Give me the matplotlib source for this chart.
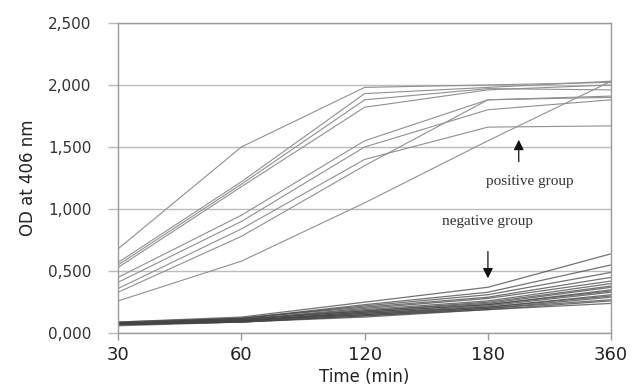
import numpy as np
import matplotlib
matplotlib.use('Agg')
import matplotlib.pyplot as plt
from matplotlib.ticker import FuncFormatter

# Sampling times (min), drawn at equal spacing
times = ['30', '60', '120', '180', '360']

# OD at 406 nm, positive group
positive = [
    [0.68, 1.50, 1.98, 2.00, 2.02],
    [0.57, 1.22, 1.93, 1.98, 2.03],
    [0.55, 1.20, 1.88, 1.97, 1.96],
    [0.53, 1.18, 1.82, 1.96, 2.00],
    [0.45, 0.95, 1.55, 1.88, 1.90],
    [0.41, 0.90, 1.50, 1.80, 1.88],
    [0.36, 0.84, 1.40, 1.66, 1.67],
    [0.33, 0.78, 1.35, 1.88, 1.91],
    [0.26, 0.58, 1.05, 1.55, 2.03],
]

# OD at 406 nm, negative group
negative = [
    [0.09, 0.13, 0.25, 0.37, 0.64],
    [0.09, 0.12, 0.23, 0.33, 0.55],
    [0.08, 0.12, 0.22, 0.31, 0.49],
    [0.08, 0.12, 0.21, 0.29, 0.45],
    [0.08, 0.11, 0.20, 0.28, 0.42],
    [0.08, 0.11, 0.19, 0.26, 0.40],
    [0.08, 0.11, 0.18, 0.25, 0.38],
    [0.08, 0.11, 0.18, 0.24, 0.37],
    [0.07, 0.10, 0.17, 0.23, 0.35],
    [0.07, 0.10, 0.17, 0.23, 0.34],
    [0.07, 0.10, 0.16, 0.22, 0.33],
    [0.07, 0.10, 0.16, 0.21, 0.31],
    [0.07, 0.10, 0.15, 0.21, 0.30],
    [0.07, 0.09, 0.15, 0.20, 0.29],
    [0.07, 0.09, 0.14, 0.20, 0.27],
    [0.07, 0.09, 0.14, 0.19, 0.26],
    [0.06, 0.09, 0.13, 0.19, 0.24],
]

fig = plt.figure(figsize=(6.42, 3.87), dpi=100)
ax = fig.add_axes([0.184, 0.139, 0.768, 0.802])

x = np.arange(len(times))
for row in positive:
    ax.plot(x, row, color='#8f8f8f', linewidth=0.8)
for row in negative:
    ax.plot(x, row, color='#444444', linewidth=0.9, alpha=0.75)

ax.set_xlim(0, len(times) - 1)
ax.set_ylim(0, 2.5)
ax.set_yticks(np.arange(0, 2.51, 0.5))
ax.yaxis.set_major_formatter(FuncFormatter(lambda v, p: f'{v:.3f}'.replace('.', ',')))
ax.set_xticks(x)
ax.set_xticklabels(times)

ax.grid(axis='y', color='#bbbbbb', linewidth=1)
ax.set_axisbelow(True)
for s in ax.spines.values():
    s.set_color('#9a9a9a')
    s.set_linewidth(1)

ax.tick_params(axis='y', length=7, width=1, color='#bbbbbb', pad=12, labelsize=11, labelcolor='#333333')
ax.tick_params(axis='x', length=5, width=1, color='#9a9a9a', pad=4, labelsize=13, labelcolor='#222222')

ax.set_xlabel('Time (min)', fontsize=12, color='#222222')
ax.xaxis.set_label_coords(0.5, -0.112)
ax.set_ylabel('OD at 406 nm', fontsize=12, color='#222222')
ax.yaxis.set_label_coords(-0.165, 0.5)

# group labels with arrows
ax.text(3.34, 1.22, 'positive group', fontsize=11, family='Liberation Serif',
        ha='center', va='center', color='#333333')
ax.annotate('', xy=(3.25, 1.58), xytext=(3.25, 1.36),
            arrowprops=dict(arrowstyle='-|>', color='#111111', lw=0.9, mutation_scale=15))
ax.text(3.0, 0.90, 'negative group', fontsize=11, family='Liberation Serif',
        ha='center', va='center', color='#333333')
ax.annotate('', xy=(3.0, 0.42), xytext=(3.0, 0.68),
            arrowprops=dict(arrowstyle='-|>', color='#111111', lw=0.9, mutation_scale=15))

plt.savefig('out.png', dpi=100)
plt.close()
